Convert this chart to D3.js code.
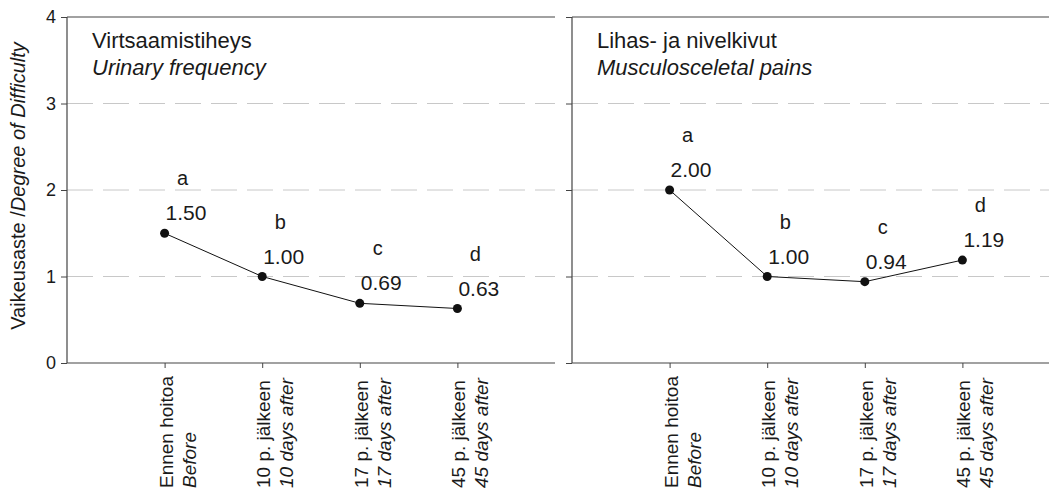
<!DOCTYPE html>
<html>
<head>
<meta charset="utf-8">
<script src="https://cdn.jsdelivr.net/npm/d3@7"></script>
<style>
  body { margin: 0; background: #fff; }
  text { font-family: "Liberation Sans", Arial, sans-serif; fill: #1a1a1a; }
</style>
</head>
<body>
<svg id="chart" width="1049" height="497"></svg>
<script>
// time points (two label lines each: Finnish / English in italic)
var timesFi = ['Ennen hoitoa', '10 p. jälkeen', '17 p. jälkeen', '45 p. jälkeen'];
var timesEn = ['Before', '10 days after', '17 days after', '45 days after'];

var urinaryValues = [1.50, 1.00, 0.69, 0.63];
var painValues = [2.00, 1.00, 0.94, 1.19];
var groupLetters = ['a', 'b', 'c', 'd'];

var yTicks = [0, 1, 2, 3, 4];

var panels = [
    { fi: 'Virtsaamistiheys', en: 'Urinary frequency', values: urinaryValues, left: 67, labels: true },
    { fi: 'Lihas- ja nivelkivut', en: 'Musculosceletal pains', values: painValues, left: 572, labels: false }
];

var svg = d3.select('#chart'),
    marginTop = 17,
    width = 488,
    height = 346;

var x = d3.scaleLinear().domain([0, 5]).range([0, width]),
    y = d3.scaleLinear().domain([0, 4]).range([height, 0]);

panels.forEach(function(p)
{
    var g = svg.append('g').attr('transform', 'translate(' + p.left + ',' + marginTop + ')');

    // dashed grid
    g.selectAll('line.grid')
        .data([1, 2, 3])
        .enter().append('line')
        .attr('class', 'grid')
        .attr('x1', 0).attr('x2', width)
        .attr('y1', y).attr('y2', y)
        .attr('stroke', '#c8c8c8')
        .attr('stroke-width', 1)
        .attr('stroke-dasharray', '26,10');

    // y axis
    var yAxis = d3.axisLeft(y).tickValues(yTicks).tickSize(6).tickPadding(5)
        .tickFormat(p.labels ? d3.format('d') : function() { return '' });
    var ya = g.append('g').call(yAxis);
    ya.select('.domain').remove();
    ya.selectAll('line').attr('stroke', '#444');
    ya.selectAll('text').style('font-size', '18px').attr('fill', '#1a1a1a');

    g.append('line').attr('x1', 0).attr('x2', 0).attr('y1', 0).attr('y2', height)
        .attr('stroke', '#444').attr('stroke-width', 1.2);
    g.append('line').attr('x1', 0).attr('x2', width).attr('y1', 0).attr('y2', 0)
        .attr('stroke', '#444').attr('stroke-width', 1.2);

    // x axis
    var xAxis = d3.axisBottom(x).tickValues([1, 2, 3, 4]).tickSize(5).tickFormat('');
    var xa = g.append('g').attr('transform', 'translate(0,' + height + ')').call(xAxis);
    xa.select('.domain').attr('d', 'M0,0H' + width).attr('stroke', '#444').attr('stroke-width', 1.2);
    xa.selectAll('line').attr('stroke', '#444');

    // rotated category labels
    var lab = g.selectAll('g.xlab')
        .data(timesFi)
        .enter().append('g')
        .attr('class', 'xlab')
        .attr('transform', function(d, i) { return 'translate(' + x(i + 1) + ',' + (height + 125) + ') rotate(-90)' });
    lab.append('text')
        .attr('x', 0).attr('y', 8)
        .style('font-size', '19px')
        .text(function(d) { return d });
    lab.append('text')
        .attr('x', 0).attr('y', 31)
        .style('font-size', '19px')
        .style('font-style', 'italic')
        .text(function(d, i) { return timesEn[i] });

    // panel title
    g.append('text').attr('x', 25).attr('y', 31).style('font-size', '22px').text(p.fi);
    g.append('text').attr('x', 25).attr('y', 58).style('font-size', '22px')
        .style('font-style', 'italic').text(p.en);

    // series
    var line = d3.line()
        .x(function(d, i) { return x(i + 1) })
        .y(function(d) { return y(d) });

    g.append('path').datum(p.values)
        .attr('d', line)
        .attr('fill', 'none')
        .attr('stroke', '#111')
        .attr('stroke-width', 1);

    g.selectAll('circle.pt')
        .data(p.values)
        .enter().append('circle')
        .attr('class', 'pt')
        .attr('cx', function(d, i) { return x(i + 1) })
        .attr('cy', y)
        .attr('r', 4.5)
        .attr('fill', '#111');

    g.selectAll('text.val')
        .data(p.values)
        .enter().append('text')
        .attr('class', 'val')
        .attr('x', function(d, i) { return x(i + 1) + 1 })
        .attr('y', function(d) { return y(d) - 13 })
        .style('font-size', '21px')
        .text(d3.format('.2f'));

    g.selectAll('text.grp')
        .data(p.values)
        .enter().append('text')
        .attr('class', 'grp')
        .attr('x', function(d, i) { return x(i + 1) + 18 })
        .attr('y', function(d) { return y(d) - 48 })
        .attr('text-anchor', 'middle')
        .style('font-size', '20px')
        .text(function(d, i) { return groupLetters[i] });
});

// y axis title
var yt = svg.append('text')
    .attr('transform', 'translate(25,186) rotate(-90)')
    .attr('text-anchor', 'middle')
    .style('font-size', '20px');
yt.append('tspan').text('Vaikeusaste /');
yt.append('tspan').style('font-style', 'italic').text('Degree of Difficulty');
</script>
</body>
</html>
